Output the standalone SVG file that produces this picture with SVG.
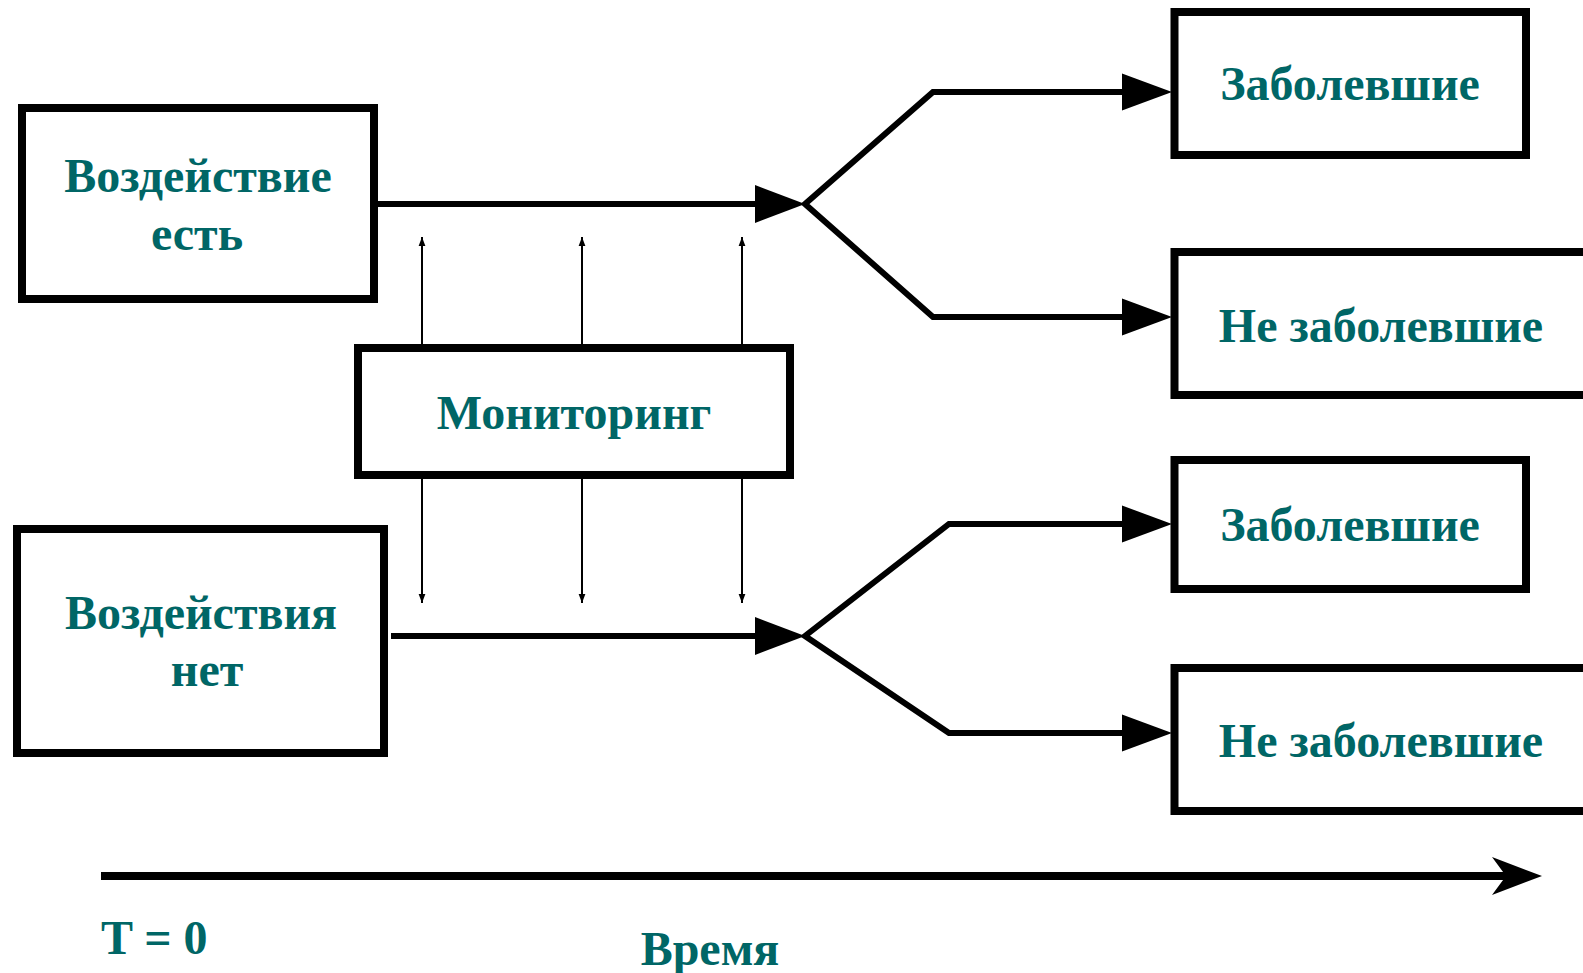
<svg xmlns="http://www.w3.org/2000/svg" width="1583" height="973" viewBox="0 0 1583 973">
  <style>
    .box { fill: #ffffff; stroke: #000000; stroke-width: 8; }
    .lbl { font-family: "Liberation Serif", "Times New Roman", serif; font-weight: bold; font-size: 48px; fill: #006666; text-anchor: middle; }
    .thick { fill: none; stroke: #000000; stroke-width: 6; stroke-linejoin: miter; }
    .thin { fill: none; stroke: #000000; stroke-width: 2; }
    .head { fill: #000000; stroke: none; }
  </style>
  <defs>
    <marker id="small" markerUnits="userSpaceOnUse" markerWidth="9" markerHeight="13" refX="12" refY="4.5" orient="auto" viewBox="0 0 12 9">
      <path d="M0,0 L12,4.5 L0,9 Z" fill="#000000"/>
    </marker>
  </defs>
  <rect width="1583" height="973" fill="#ffffff"/>

  <g id="connectors">
    <!-- main arrows -->
    <line class="thick" x1="378" y1="204" x2="757" y2="204"/>
    <polygon class="head" points="755,185 805,204 755,223"/>
    <line class="thick" x1="391" y1="636" x2="757" y2="636"/>
    <polygon class="head" points="755,617 805,636 755,655"/>
    <!-- upper fork -->
    <polyline class="thick" points="1124,92 933,92 805,204 933,317 1124,317"/>
    <polygon class="head" points="1122,73.5 1172,92 1122,110.5"/>
    <polygon class="head" points="1122,298.5 1172,317 1122,335.5"/>
    <!-- lower fork -->
    <polyline class="thick" points="1124,524 949,524 805,636 949,733 1124,733"/>
    <polygon class="head" points="1122,505.5 1172,524 1122,542.5"/>
    <polygon class="head" points="1122,714.5 1172,733 1122,751.5"/>
    <!-- monitoring arrows -->
    <line class="thin" x1="422" y1="344" x2="422" y2="237" marker-end="url(#small)"/>
    <line class="thin" x1="582" y1="344" x2="582" y2="237" marker-end="url(#small)"/>
    <line class="thin" x1="742" y1="344" x2="742" y2="237" marker-end="url(#small)"/>
    <line class="thin" x1="422" y1="479" x2="422" y2="603" marker-end="url(#small)"/>
    <line class="thin" x1="582" y1="479" x2="582" y2="603" marker-end="url(#small)"/>
    <line class="thin" x1="742" y1="479" x2="742" y2="603" marker-end="url(#small)"/>
    <!-- time axis -->
    <line x1="101" y1="876" x2="1510" y2="876" stroke="#000000" stroke-width="8"/>
    <path class="head" d="M1492,857 L1542,876 L1492,895 L1506,876 Z"/>
  </g>

  <g id="node-exposed">
    <rect class="box" x="22" y="108" width="352" height="191"/>
    <text class="lbl" x="198" y="192">Воздействие</text>
    <text class="lbl" x="197" y="250">есть</text>
  </g>

  <g id="node-unexposed">
    <rect class="box" x="17" y="529" width="367" height="224"/>
    <text class="lbl" x="201" y="629">Воздействия</text>
    <text class="lbl" x="207" y="686">нет</text>
  </g>

  <g id="node-monitoring">
    <rect class="box" x="358" y="348" width="432" height="127"/>
    <text class="lbl" x="574" y="429">Мониторинг</text>
  </g>

  <g id="node-ill-1">
    <rect class="box" x="1174.5" y="12" width="351.5" height="143"/>
    <text class="lbl" x="1350" y="100">Заболевшие</text>
  </g>

  <g id="node-notill-1">
    <rect class="box" x="1174.5" y="252" width="450" height="143"/>
    <text class="lbl" x="1381" y="342">Не заболевшие</text>
  </g>

  <g id="node-ill-2">
    <rect class="box" x="1174.5" y="460" width="351.5" height="129"/>
    <text class="lbl" x="1350" y="541">Заболевшие</text>
  </g>

  <g id="node-notill-2">
    <rect class="box" x="1174.5" y="668" width="450" height="143"/>
    <text class="lbl" x="1381" y="757">Не заболевшие</text>
  </g>

  <g id="time-labels">
    <text class="lbl" x="101" y="954" style="text-anchor:start">T = 0</text>
    <text class="lbl" x="710" y="965">Время</text>
  </g>
</svg>
